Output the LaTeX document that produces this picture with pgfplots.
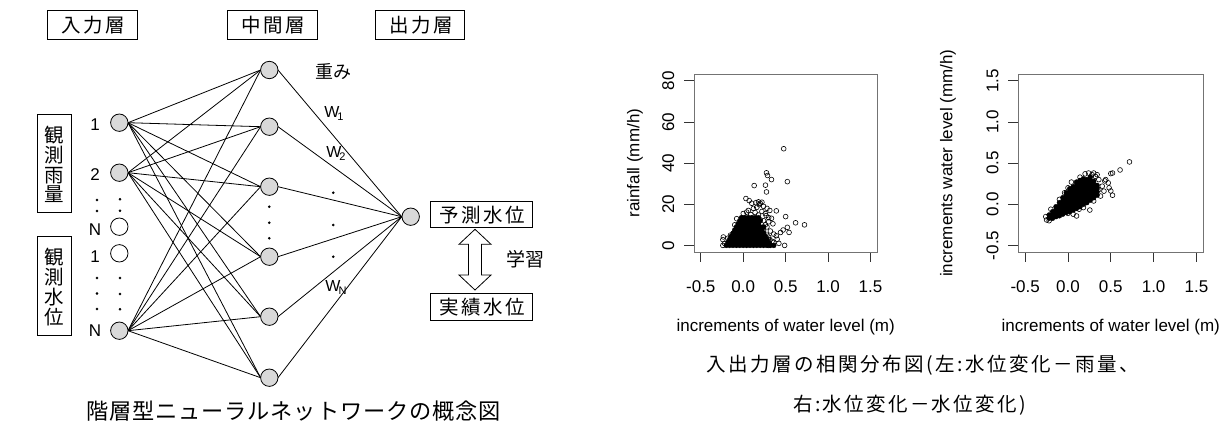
\documentclass[border=0pt]{standalone}
\usepackage{pgfplots}
\pgfplotsset{compat=1.18}
\usepackage{fontspec}
\setmainfont{Liberation Sans}
\newfontfamily\jp[LetterSpace=12]{Noto Sans CJK JP}
\newfontfamily\jpl[LetterSpace=13]{Noto Sans CJK JP}
\newfontfamily\jpc[LetterSpace=4]{Noto Sans CJK JP}
\newfontfamily\jpv{Noto Sans CJK JP}
\pgfplotsset{
  edge/.style={black, line width=0.8pt, mark=none},
  rplot/.style={scale only axis, anchor=south west,
    xmin=-0.58, xmax=1.58,
    xtick={-0.5,0,0.5,1,1.5}, xticklabels={-0.5,0.0,0.5,1.0,1.5},
    xtick pos=bottom, ytick pos=left,
    tick align=outside, major tick length=10pt,
    major tick style={black!80, line width=0.8pt},
    axis line style={black!55, line width=0.8pt},
    ticklabel style={font=\fontsize{17}{17}\selectfont},
    xticklabel style={anchor=center}, xticklabel shift=24.7pt,
    yticklabel style={rotate=90, anchor=center}, yticklabel shift=15.7pt,
    label style={font=\fontsize{17}{17}\selectfont},
    xlabel style={at={([yshift=-74.7pt]axis description cs:0.5,0)}, anchor=center},
    clip=false},
  core/.style={only marks, mark=*, mark size=2.5pt, mark options={fill=black, draw=black, line width=0.3pt}},
  open/.style={only marks, mark=o, mark size=2.4pt, mark options={draw=black, line width=0.6pt}},
}
\begin{document}
\begin{tikzpicture}
\path[use as bounding box] (0,0) rectangle (1226pt,425pt);
\begin{axis}[at={(0,0)}, anchor=south west, width=1226pt, height=425pt, scale only axis,
  xmin=0, xmax=1226, ymin=0, ymax=425, y dir=reverse, hide axis, clip=false]
% input -> hidden
\addplot[edge] coordinates {(128,122.7) (260.6,70)};
\addplot[edge] coordinates {(128,122.7) (260.6,126.7)};
\addplot[edge] coordinates {(128,122.7) (260.6,186.7)};
\addplot[edge] coordinates {(128,122.7) (260.6,256.7)};
\addplot[edge] coordinates {(128,122.7) (260.6,316.7)};
\addplot[edge] coordinates {(128,122.7) (260.6,377.7)};
\addplot[edge] coordinates {(128,172.7) (260.6,70)};
\addplot[edge] coordinates {(128,172.7) (260.6,126.7)};
\addplot[edge] coordinates {(128,172.7) (260.6,186.7)};
\addplot[edge] coordinates {(128,172.7) (260.6,256.7)};
\addplot[edge] coordinates {(128,172.7) (260.6,316.7)};
\addplot[edge] coordinates {(128,172.7) (260.6,377.7)};
\addplot[edge] coordinates {(128,330.7) (260.6,70)};
\addplot[edge] coordinates {(128,330.7) (260.6,126.7)};
\addplot[edge] coordinates {(128,330.7) (260.6,186.7)};
\addplot[edge] coordinates {(128,330.7) (260.6,256.7)};
\addplot[edge] coordinates {(128,330.7) (260.6,316.7)};
\addplot[edge] coordinates {(128,330.7) (260.6,377.7)};
% hidden -> output
\addplot[edge] coordinates {(278,70) (401.7,216.7)};
\addplot[edge] coordinates {(278,126.7) (401.7,216.7)};
\addplot[edge] coordinates {(278,186.7) (401.7,216.7)};
\addplot[edge] coordinates {(278,256.7) (401.7,216.7)};
\addplot[edge] coordinates {(278,316.7) (401.7,216.7)};
\addplot[edge] coordinates {(278,377.7) (401.7,216.7)};
% nodes
\addplot[only marks, mark=*, mark size=8.7pt, mark options={fill=black!15, draw=black, line width=0.8pt}]
  coordinates {(119.3,122.7) (119.3,172.7) (119.3,330.7)
  (269.3,70) (269.3,126.7) (269.3,186.7) (269.3,256.7) (269.3,316.7) (269.3,377.7)
  (410.7,216.7)};
\addplot[only marks, mark=*, mark size=8.7pt, mark options={fill=white, draw=black, line width=0.8pt}]
  coordinates {(119.3,226.7) (119.3,253.3)};
% dots
\addplot[only marks, mark=*, mark size=1.1pt, black]
  coordinates {(97,200) (97,211) (97,278) (97,293.5) (97,309)
  (120,199.3) (120,210.7) (120,278) (120,294) (120,309.3)
  (269.3,206.7) (269.3,222.7) (269.3,238.3)
  (333.3,192.7) (333.3,225) (333.3,256.7)};
% top boxes
\tikzset{lbox/.style={draw, line width=0.8pt, inner sep=0pt, font=\jp\fontsize{19.5}{19.5}\selectfont}}
\node[lbox, minimum width=90pt, minimum height=28.3pt] at (axis cs:92.3,24.8) {\hspace*{2pt}入力層};
\node[lbox, minimum width=89.3pt, minimum height=28.3pt] at (axis cs:272.5,24.8) {\hspace*{2pt}中間層};
\node[lbox, minimum width=89pt, minimum height=28.3pt] at (axis cs:420.2,24.8) {\hspace*{2pt}出力層};
% side boxes
\node[draw, line width=0.8pt, minimum width=34pt, minimum height=98.4pt, inner sep=0pt] at (axis cs:54.3,163.5) {};
\node[draw, line width=0.8pt, minimum width=34pt, minimum height=98.4pt, inner sep=0pt] at (axis cs:54.3,285.8) {};
\node[align=center, inner sep=0pt, font=\jpv\fontsize{19.5}{19.8}\selectfont] at (axis cs:54.3,164.5) {観\\測\\雨\\量};
\node[align=center, inner sep=0pt, font=\jpv\fontsize{19.5}{19.8}\selectfont] at (axis cs:54.3,287) {観\\測\\水\\位};
% input labels
\tikzset{nlab/.style={inner sep=0pt, font=\fontsize{17}{17}\selectfont}}
\node[nlab] at (axis cs:95,124.5) {1};
\node[nlab] at (axis cs:95,174.5) {2};
\node[nlab] at (axis cs:95,229.3) {N};
\node[nlab] at (axis cs:95,256.5) {1};
\node[nlab] at (axis cs:95,331) {N};
% weights
\node[inner sep=0pt, font=\jpv\fontsize{18}{18}\selectfont] at (axis cs:333.5,72) {重み};
\node[nlab, font=\fontsize{16}{16}\selectfont] at (axis cs:334,113.5) {W\kern-2pt\raisebox{-3pt}{\fontsize{11}{11}\selectfont 1}};
\node[nlab, font=\fontsize{16}{16}\selectfont] at (axis cs:336,153.5) {W\kern-2pt\raisebox{-3pt}{\fontsize{11}{11}\selectfont 2}};
\node[nlab, font=\fontsize{16}{16}\selectfont] at (axis cs:336,287.5) {W\kern-2pt\raisebox{-3pt}{\fontsize{11}{11}\selectfont N}};
% output boxes
\node[lbox, minimum width=101.6pt, minimum height=26pt] at (axis cs:481.5,214.7) {\hspace*{2pt}予測水位};
\node[lbox, minimum width=101.6pt, minimum height=26.7pt] at (axis cs:481.5,306.7) {\hspace*{2pt}実績水位};
\draw[line width=0.8pt, fill=white] (axis cs:475,229.3) -- (axis cs:491,244.3) -- (axis cs:481.5,244.3) -- (axis cs:481.5,275) -- (axis cs:491,275) -- (axis cs:475,290) -- (axis cs:459,275) -- (axis cs:468.5,275) -- (axis cs:468.5,244.3) -- (axis cs:459,244.3) -- cycle;
\node[inner sep=0pt, font=\jpv\fontsize{19}{19}\selectfont] at (axis cs:525,259) {学習};
% captions
\node[inner sep=0pt, anchor=west, font=\jpc\fontsize{22.2}{22.2}\selectfont] at (axis cs:86,411) {階層型ニューラルネットワークの概念図};
\node[inner sep=0pt, anchor=west, font=\jpl\fontsize{19.5}{19.5}\selectfont] at (axis cs:706,365) {入出力層の相関分布図(左:水位変化－雨量、};
\node[inner sep=0pt, anchor=west, font=\jp\fontsize{19.5}{19.5}\selectfont] at (axis cs:793,405.7) {右:水位変化－水位変化)};
\end{axis}

% ---------- left scatter
\begin{axis}[rplot, at={(694pt,173pt)}, width=183.3pt, height=177.7pt,
  ymin=-3.2, ymax=83.2, ytick={0,20,40,60,80}, yticklabels={0,20,40,60,80},
  xlabel={increments of water level (m)}, ylabel={rainfall (mm/h)},
  ylabel style={at={([xshift=-59pt]axis description cs:0,0.5)}, anchor=center, rotate=0}]
\addplot[core] coordinates {
(-0.20,0) (-0.16,0) (-0.12,0) (-0.08,0) (-0.04,0) (0.00,0) (0.04,0) (0.08,0) (0.12,0) (0.16,0) (0.20,0) (0.24,0) (0.28,0) (0.32,0) (0.36,0)
(-0.18,1.5) (-0.14,1.5) (-0.10,1.5) (-0.06,1.5) (-0.02,1.5) (0.02,1.5) (0.06,1.5) (0.10,1.5) (0.14,1.5) (0.18,1.5) (0.22,1.5) (0.26,1.5) (0.30,1.5)
(-0.16,3) (-0.12,3) (-0.08,3) (-0.04,3) (0.00,3) (0.04,3) (0.08,3) (0.12,3) (0.16,3) (0.20,3) (0.24,3) (0.28,3)
(-0.14,4.5) (-0.10,4.5) (-0.06,4.5) (-0.02,4.5) (0.02,4.5) (0.06,4.5) (0.10,4.5) (0.14,4.5) (0.18,4.5) (0.22,4.5) (0.26,4.5)
(-0.12,6) (-0.08,6) (-0.04,6) (0.00,6) (0.04,6) (0.08,6) (0.12,6) (0.16,6) (0.20,6) (0.24,6)
(-0.10,7.5) (-0.06,7.5) (-0.02,7.5) (0.02,7.5) (0.06,7.5) (0.10,7.5) (0.14,7.5) (0.18,7.5) (0.22,7.5)
(-0.08,9) (-0.04,9) (0.00,9) (0.04,9) (0.08,9) (0.12,9) (0.16,9) (0.20,9) (0.24,9)
(-0.06,10.5) (-0.02,10.5) (0.02,10.5) (0.06,10.5) (0.10,10.5) (0.14,10.5) (0.18,10.5)
(-0.04,12) (0.00,12) (0.04,12) (0.08,12) (0.12,12) (0.16,12) (0.20,12)
(-0.02,13.5) (0.02,13.5) (0.06,13.5) (0.10,13.5) (0.14,13.5) (0.18,13.5)
};
\addplot[open] coordinates {
(0.477,47) (0.52,31) (0.274,35.3) (0.286,34) (0.333,32) (0.262,29.3) (0.274,26) (0.129,29.1)
(0.032,22.8) (0.07,21.8) (0.10,20.5) (0.15,20.8) (0.18,21.2) (0.20,20.5) (0.22,21) (0.19,19.8)
(0.24,19) (0.16,18.5) (0.12,18) (0.06,17) (0.28,18) (0.313,17) (0.39,16.8) (0.333,13.2)
(0.26,15.5) (0.22,16.5) (0.30,11.5) (0.35,10.5) (0.28,9) (0.32,7) (0.36,5.5) (0.30,4)
(0.40,3) (0.34,2) (0.44,6.3) (0.39,4.7) (0.313,2.8) (0.488,0) (0.50,14) (0.617,11)
(0.722,10) (0.52,8.8) (0.54,6.3) (0.47,7.5) (0.30,0) (0.26,0.5) (-0.077,13) (-0.10,10)
(-0.15,5) (-0.234,4.1) (-0.24,2.8) (-0.22,1) (-0.24,0) (-0.18,3.5) (0.00,15.5) (0.04,16.2)
(0.09,15) (0.14,16) (0.18,14.8) (0.20,12.5) (0.24,12) (0.26,10) (0.24,7) (0.28,5)
(0.30,13.5) (0.27,14.5) (0.42,1) (0.36,1.5)
};
\end{axis}

% ---------- right scatter
\begin{axis}[rplot, at={(1018.3pt,173pt)}, width=185pt, height=177.7pt,
  ymin=-0.58, ymax=1.58, ytick={-0.5,0,0.5,1,1.5}, yticklabels={-0.5,0.0,0.5,1.0,1.5},
  xlabel={increments of water level (m)}, ylabel={increments water level (mm/h)},
  ylabel style={at={([xshift=-70.3pt]axis description cs:0,0.5)}, anchor=center, rotate=0}]
\addplot[core] coordinates {
(-0.22,-0.17) (-0.22,-0.13)
(-0.18,-0.17) (-0.18,-0.13) (-0.18,-0.09)
(-0.14,-0.15) (-0.14,-0.11) (-0.14,-0.07) (-0.14,-0.03)
(-0.10,-0.14) (-0.10,-0.10) (-0.10,-0.06) (-0.10,-0.02) (-0.10,0.02)
(-0.06,-0.12) (-0.06,-0.08) (-0.06,-0.04) (-0.06,0.00) (-0.06,0.04) (-0.06,0.08)
(-0.02,-0.10) (-0.02,-0.06) (-0.02,-0.02) (-0.02,0.02) (-0.02,0.06) (-0.02,0.10) (-0.02,0.14)
(0.02,-0.09) (0.02,-0.05) (0.02,-0.01) (0.02,0.03) (0.02,0.07) (0.02,0.11) (0.02,0.15) (0.02,0.19)
(0.06,-0.07) (0.06,-0.03) (0.06,0.01) (0.06,0.05) (0.06,0.09) (0.06,0.13) (0.06,0.17) (0.06,0.21)
(0.10,-0.05) (0.10,-0.01) (0.10,0.03) (0.10,0.07) (0.10,0.11) (0.10,0.15) (0.10,0.19) (0.10,0.23) (0.10,0.27)
(0.14,-0.03) (0.14,0.01) (0.14,0.05) (0.14,0.09) (0.14,0.13) (0.14,0.17) (0.14,0.21) (0.14,0.25) (0.14,0.29)
(0.18,0.00) (0.18,0.04) (0.18,0.08) (0.18,0.12) (0.18,0.16) (0.18,0.20) (0.18,0.24) (0.18,0.28) (0.18,0.31)
(0.22,0.02) (0.22,0.06) (0.22,0.10) (0.22,0.14) (0.22,0.18) (0.22,0.22) (0.22,0.26) (0.22,0.30)
(0.26,0.05) (0.26,0.09) (0.26,0.13) (0.26,0.17) (0.26,0.21) (0.26,0.25) (0.26,0.29) (0.26,0.33)
(0.30,0.08) (0.30,0.12) (0.30,0.16) (0.30,0.20) (0.30,0.24) (0.30,0.28)
(0.34,0.11) (0.34,0.15) (0.34,0.19) (0.34,0.23)
};
\addplot[open] coordinates {
(0.718,0.515) (0.608,0.417) (0.50,0.373) (0.52,0.38) (0.43,0.284) (0.47,0.26) (0.50,0.162) (0.52,0.11)
(0.48,0.20) (0.255,-0.07) (0.10,-0.142) (0.13,-0.06) (0.36,0.18) (0.20,0.37) (0.24,0.38) (0.28,0.36)
(0.30,0.38) (0.32,0.34) (0.36,0.30) (0.40,0.22) (0.42,0.16) (0.38,0.10) (0.04,0.27) (0.00,0.20)
(-0.04,0.14) (-0.10,0.06) (-0.20,-0.06) (-0.25,-0.19) (-0.26,-0.15) (-0.22,-0.20) (0.06,-0.12) (0.18,-0.04)
(0.30,0.04) (0.14,0.33) (0.44,0.30) (0.34,0.36) (0.00,-0.11) (0.08,0.22)
};
\end{axis}
\end{tikzpicture}
\end{document}
